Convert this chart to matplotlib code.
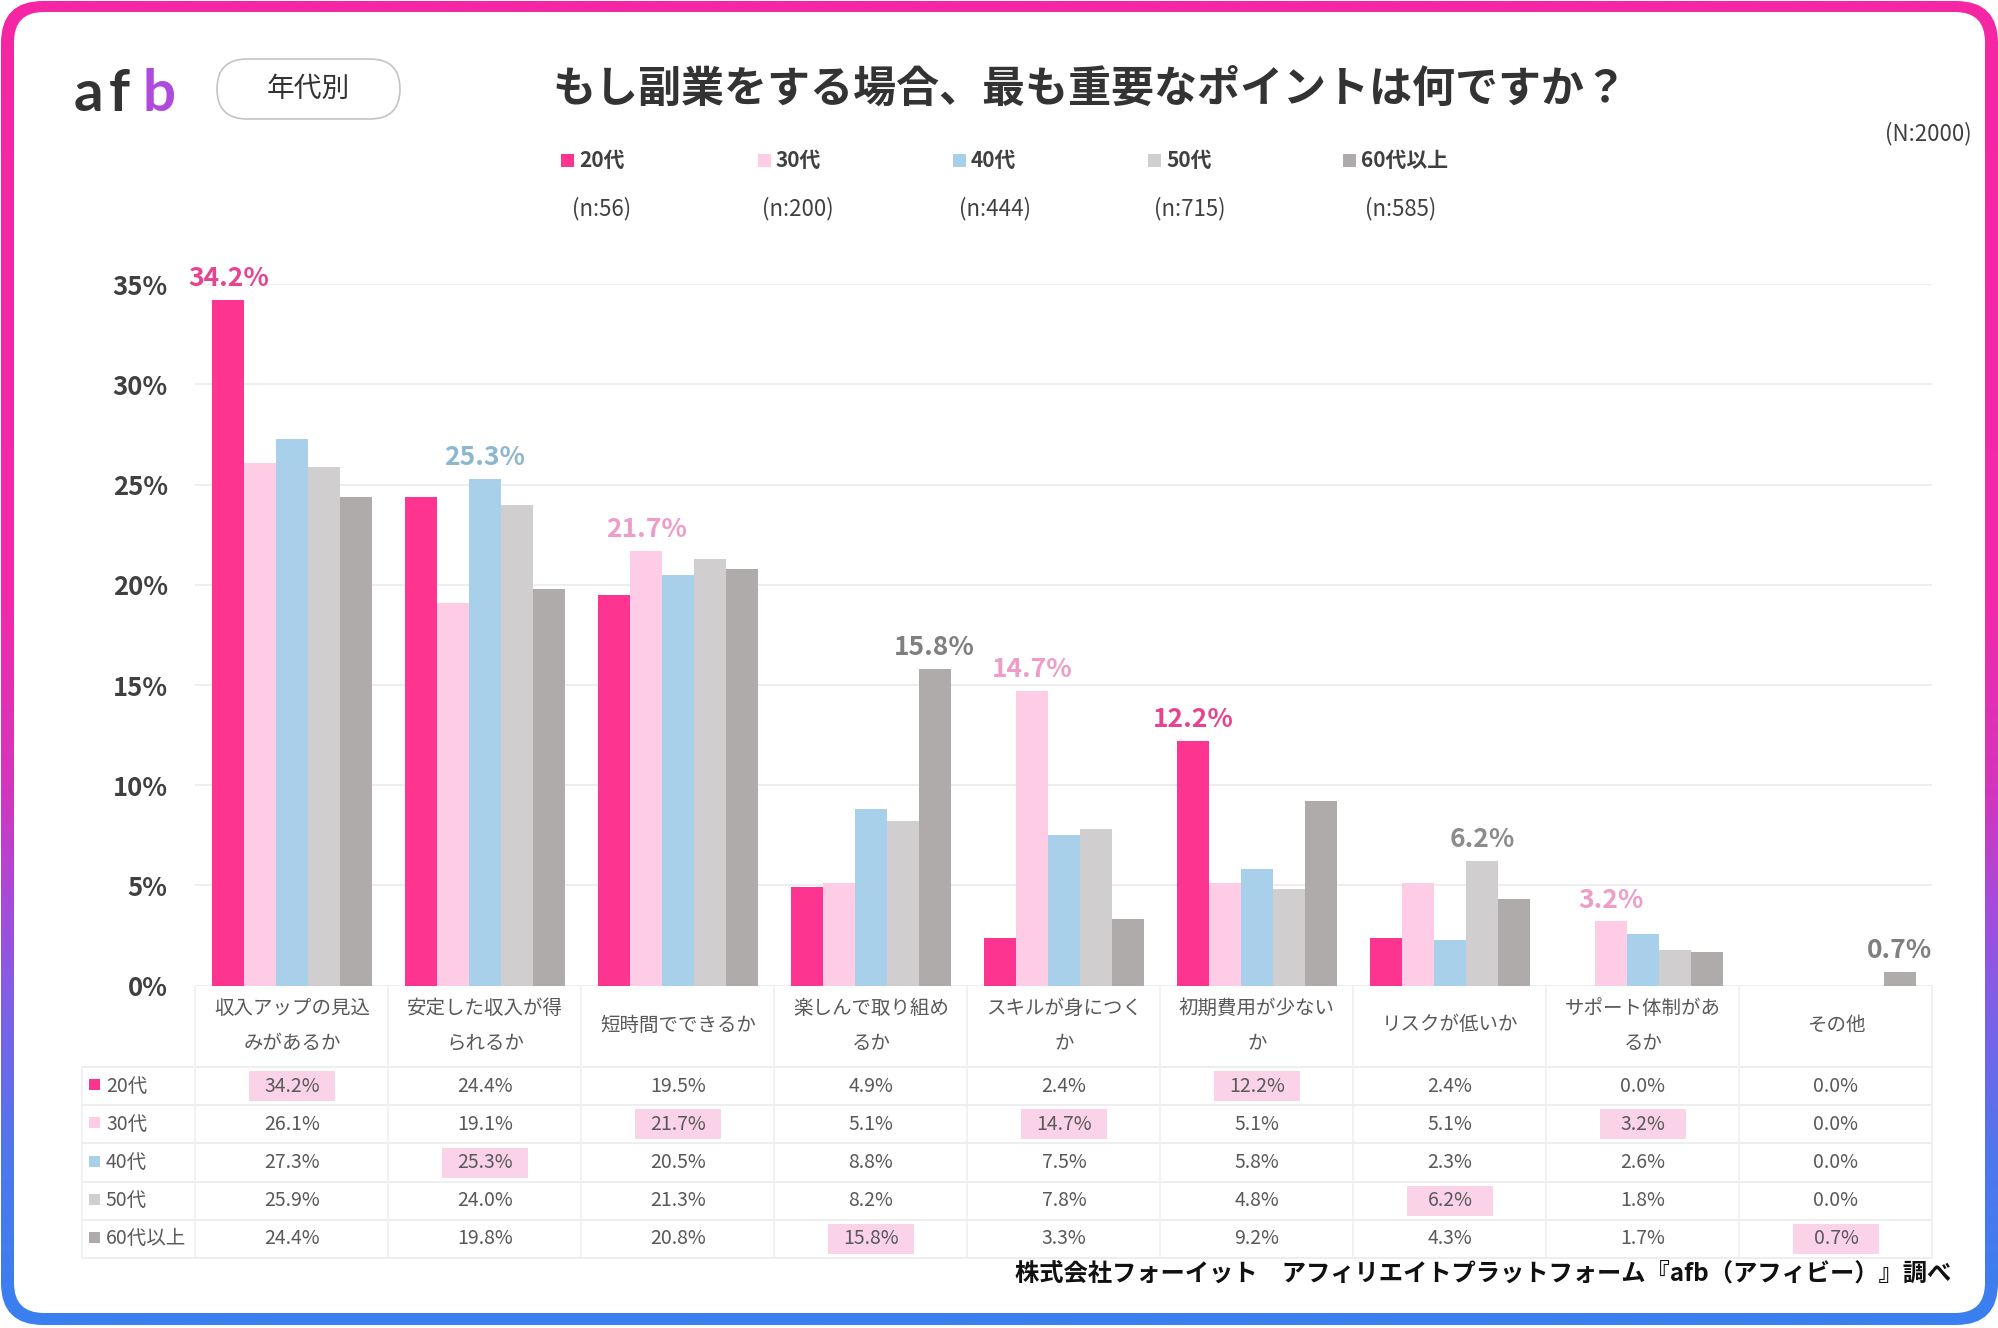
import numpy as np
import matplotlib
matplotlib.use('Agg')
import matplotlib.pyplot as plt
from matplotlib.patches import FancyBboxPatch, Rectangle
from matplotlib.colors import LinearSegmentedColormap

plt.rcParams['font.family'] = ['Noto Sans CJK JP', 'DejaVu Sans']

# ---------------------------------------------------------------------------
# Data
# ---------------------------------------------------------------------------
CATEGORIES = ['収入アップの見込\nみがあるか', '安定した収入が得\nられるか', '短時間でできるか',
              '楽しんで取り組め\nるか', 'スキルが身につく\nか', '初期費用が少ない\nか',
              'リスクが低いか', 'サポート体制があ\nるか', 'その他']
GROUPS = ['20代', '30代', '40代', '50代', '60代以上']
N_SIZES = [56, 200, 444, 715, 585]
V20 = [34.2, 24.4, 19.5, 4.9, 2.4, 12.2, 2.4, 0.0, 0.0]
V30 = [26.1, 19.1, 21.7, 5.1, 14.7, 5.1, 5.1, 3.2, 0.0]
V40 = [27.3, 25.3, 20.5, 8.8, 7.5, 5.8, 2.3, 2.6, 0.0]
V50 = [25.9, 24.0, 21.3, 8.2, 7.8, 4.8, 6.2, 1.8, 0.0]
V60 = [24.4, 19.8, 20.8, 15.8, 3.3, 9.2, 4.3, 1.7, 0.7]
SERIES = [V20, V30, V40, V50, V60]

# ---------------------------------------------------------------------------
# Palette
# ---------------------------------------------------------------------------
BAR_COLORS = ['#FD3591', '#FFCCE6', '#A9D0EA', '#D0CECE', '#AFABAB']
LABEL_COLORS = ['#E8438E', '#EE9CC8', '#8DB6CF', '#8C8C8C', '#7F7F7F']
TEXT = '#404040'
TABLE_TEXT = '#595959'
GRID = '#EBEBEB'
HILITE = '#FBD3E9'
BORDER_CMAP = LinearSegmentedColormap.from_list('border', [
    (0.0, '#F626A4'), (0.45, '#F22AAA'), (0.6, '#D236BE'), (0.68, '#A84BDA'),
    (0.76, '#7E60E8'), (0.88, '#4C78EE'), (1.0, '#3A80F0')])

W, H = 1999, 1328

# layout in pixels
X0 = 195.5          # left edge of plot / first category
CW = 193.0          # category width
Y_ZERO = 985.6
Y_TOP = 284.3
ROW_TOP = 1067.0
ROW_H = 38.2
BAR_W = 0.165


def main():
    fig = plt.figure(figsize=(W / 100, H / 100), dpi=100, facecolor='white')

    # background frame ------------------------------------------------------
    bg = fig.add_axes([0, 0, 1, 1], zorder=0)
    grad = np.linspace(0, 1, 512).reshape(-1, 1)
    im = bg.imshow(grad, cmap=BORDER_CMAP, extent=(0, W, 1326, 0),
                   aspect='auto', zorder=0)
    bg.set_xlim(0, W)
    bg.set_ylim(H, 0)
    bg.axis('off')
    outer = FancyBboxPatch((1, 1), W - 2, 1324,
                           boxstyle='round,pad=0,rounding_size=42',
                           transform=bg.transData, fc='none', ec='none')
    bg.add_patch(outer)
    im.set_clip_path(outer)
    bg.add_patch(FancyBboxPatch((14, 12), W - 28, 1301,
                                boxstyle='round,pad=0,rounding_size=30',
                                fc='white', ec='none', zorder=1))

    # header ----------------------------------------------------------------
    logo = [('a', 74, '#333333'), ('f', 109, '#333333'), ('b', 143, '#B04ADC')]
    for ch, lx, col in logo:
        bg.text(lx, 111, ch, fontsize=42, fontweight='bold', color=col,
                family=['Lato', 'DejaVu Sans'], ha='left', va='baseline',
                zorder=3)
    bg.add_patch(FancyBboxPatch((217, 59), 183, 60,
                                boxstyle='round,pad=0,rounding_size=30',
                                fc='white', ec='#C4C4C4', lw=1.2, zorder=2))
    bg.text(308, 89, '年代別', fontsize=20, color='#333333',
            ha='center', va='center', zorder=3)
    bg.text(1090, 89, 'もし副業をする場合、最も重要なポイントは何ですか？',
            fontsize=31, fontweight='bold', color='#333333',
            ha='center', va='center', zorder=3)
    bg.text(1972, 134, '(N:2000)', fontsize=16, color=TEXT,
            ha='right', va='center', zorder=3)

    # legend ----------------------------------------------------------------
    leg_x = [568, 765, 960, 1155, 1350]
    n_x = [602, 798, 995, 1190, 1401]
    for k, grp in enumerate(GROUPS):
        bg.add_patch(Rectangle((leg_x[k] - 6.5, 154), 13, 13,
                               fc=BAR_COLORS[k], ec='none', zorder=3))
        bg.text(leg_x[k] + 11, 160, grp, fontsize=15, fontweight='bold',
                color=TEXT, ha='left', va='center', zorder=3)
        bg.text(n_x[k], 209, f'(n:{N_SIZES[k]})', fontsize=16,
                color=TEXT, ha='center', va='center', zorder=3)

    # bar chart -------------------------------------------------------------
    ax = fig.add_axes([X0 / W, 1 - Y_ZERO / H, 9 * CW / W, (Y_ZERO - Y_TOP) / H],
                      zorder=2)
    ax.patch.set_alpha(0)
    x = np.arange(len(CATEGORIES))
    for k, vals in enumerate(SERIES):
        ax.bar(x + (k - 2) * BAR_W, vals, BAR_W, color=BAR_COLORS[k],
               linewidth=0, zorder=2)

    data = np.array(SERIES)
    best = data.argmax(axis=0)
    for j in x:
        k = best[j]
        v = data[k, j]
        ax.annotate(f'{v:.1f}%', (j + (k - 2) * BAR_W, v), xytext=(0, 10),
                    textcoords='offset points', ha='center', va='baseline',
                    fontsize=19, fontweight='bold', color=LABEL_COLORS[k],
                    annotation_clip=False, zorder=4)

    ax.set_xlim(-0.5, len(CATEGORIES) - 0.5)
    ax.set_ylim(0, 35)
    ax.set_yticks(range(0, 36, 5))
    ax.set_yticklabels([f'{t}%' for t in range(0, 36, 5)], fontsize=18.5,
                       fontweight='bold', color=TEXT)
    ax.tick_params(axis='y', length=0, pad=20)
    ax.set_xticks([])
    ax.yaxis.grid(True, color=GRID, lw=1.2)
    ax.set_axisbelow(True)
    for s in ax.spines.values():
        s.set_visible(False)

    # data table ------------------------------------------------------------
    x_right = X0 + 9 * CW
    for r in range(len(GROUPS) + 1):
        y = ROW_TOP + r * ROW_H
        bg.plot([82, x_right], [y, y], color=GRID, lw=1.2, zorder=2)
    for xv in [82] + [X0 + i * CW for i in range(10)]:
        y_start = ROW_TOP if xv == 82 else Y_ZERO
        bg.plot([xv, xv], [y_start, ROW_TOP + 5 * ROW_H], color='#F0F0F0',
                lw=1.2, zorder=2)

    for j, cat in enumerate(CATEGORIES):
        cx = X0 + (j + 0.5) * CW
        lines = cat.split('\n')
        if len(lines) == 1:
            bg.text(cx, 1025, lines[0], fontsize=14, color=TABLE_TEXT,
                    ha='center', va='center', zorder=3)
        else:
            bg.text(cx, 1008, lines[0], fontsize=14, color=TABLE_TEXT,
                    ha='center', va='center', zorder=3)
            bg.text(cx, 1043, lines[1], fontsize=14, color=TABLE_TEXT,
                    ha='center', va='center', zorder=3)

    for r, grp in enumerate(GROUPS):
        cy = ROW_TOP + (r + 0.5) * ROW_H
        bg.add_patch(Rectangle((89, cy - 7), 11, 11, fc=BAR_COLORS[r],
                               ec='none', zorder=3))
        bg.text(106, cy, grp, fontsize=14, color=TABLE_TEXT,
                ha='left', va='center', zorder=3)
        for j in range(len(CATEGORIES)):
            cx = X0 + (j + 0.5) * CW
            if best[j] == r:
                bg.add_patch(Rectangle((cx - 43, cy - 15), 86, 30, fc=HILITE,
                                       ec='none', zorder=2.5))
            bg.text(cx, cy, f'{SERIES[r][j]:.1f}%', fontsize=14,
                    color=TABLE_TEXT, ha='center', va='center', zorder=3)

    # footer ----------------------------------------------------------------
    bg.text(1951, 1274,
            '株式会社フォーイット　アフィリエイトプラットフォーム『afb（アフィビー）』調べ',
            fontsize=17.5, fontweight='bold', color='#111111',
            ha='right', va='center', zorder=3)

    fig.savefig('out.png', dpi=100, facecolor='white')
    plt.close(fig)


if __name__ == '__main__':
    main()
